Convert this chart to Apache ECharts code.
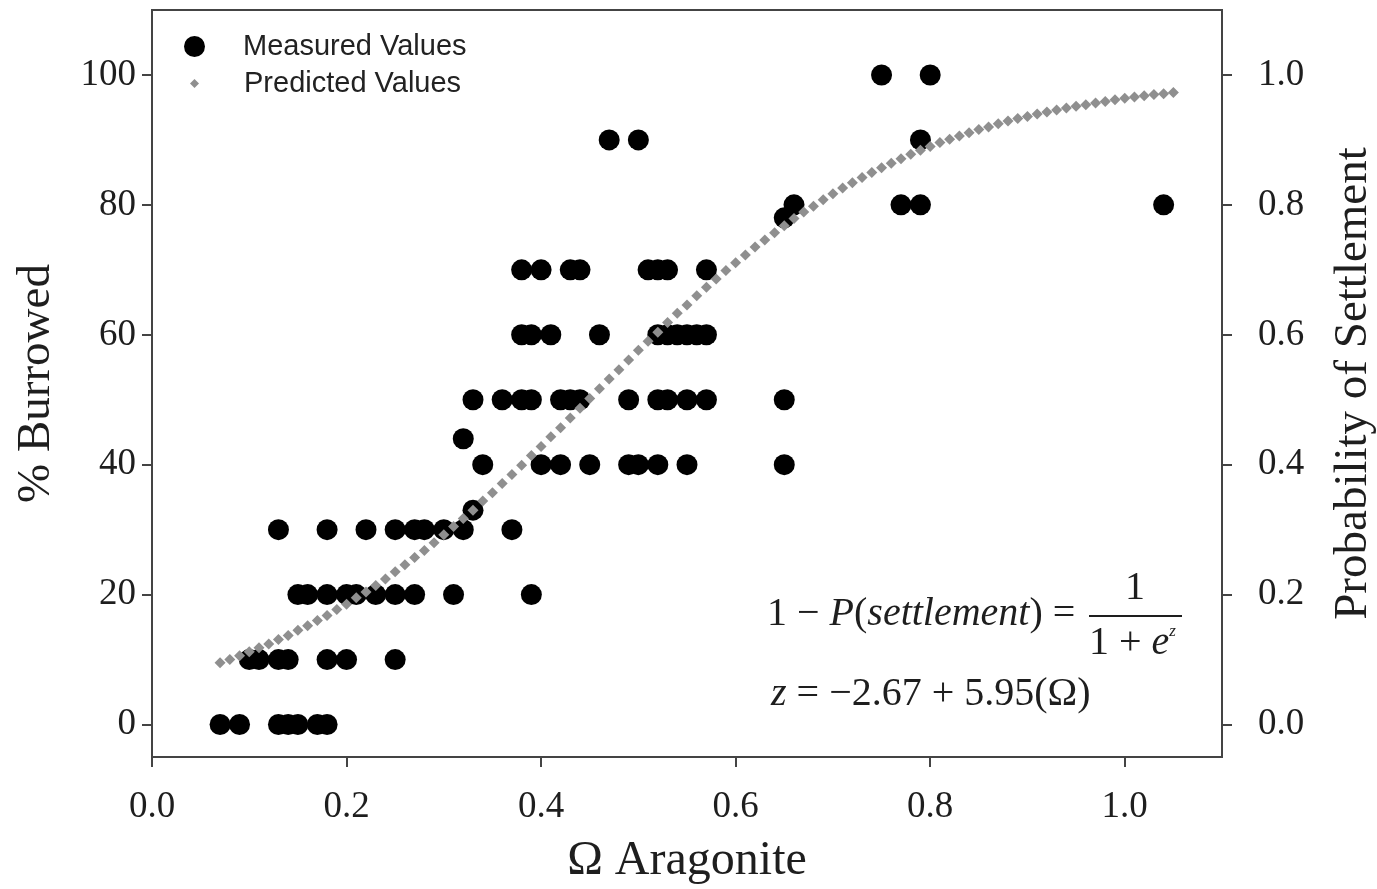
<!DOCTYPE html>
<html>
<head>
<meta charset="utf-8">
<title>Burrowing vs aragonite saturation</title>
<script src="https://cdn.jsdelivr.net/npm/echarts@6/dist/echarts.min.js"></script>
<style>
  html, body { margin: 0; padding: 0; background: #fff; }
  #chart { width: 1377px; height: 889px; }
</style>
</head>
<body>
<div id="chart"></div>
<script>
const measuredX = [
  0.07, 0.09, 0.13, 0.14, 0.15, 0.17, 0.18,
  0.10, 0.11, 0.13, 0.14, 0.18, 0.20, 0.25,
  0.15, 0.16, 0.18, 0.20, 0.21, 0.23, 0.25, 0.27, 0.31, 0.39,
  0.13, 0.18, 0.22, 0.25, 0.27, 0.28, 0.30, 0.32, 0.37,
  0.33,
  0.34, 0.40, 0.42, 0.45, 0.49, 0.50, 0.52, 0.55, 0.65,
  0.32,
  0.33, 0.36, 0.38, 0.39, 0.42, 0.43, 0.44, 0.49, 0.52, 0.53, 0.55, 0.57, 0.65,
  0.38, 0.39, 0.41, 0.46, 0.52, 0.53, 0.54, 0.55, 0.56, 0.57,
  0.38, 0.40, 0.43, 0.44, 0.51, 0.52, 0.53, 0.57,
  0.65,
  0.66, 0.77, 0.79, 1.04,
  0.47, 0.50, 0.79,
  0.75, 0.80
];
const measuredY = [
  0, 0, 0, 0, 0, 0, 0,
  10, 10, 10, 10, 10, 10, 10,
  20, 20, 20, 20, 20, 20, 20, 20, 20, 20,
  30, 30, 30, 30, 30, 30, 30, 30, 30,
  33,
  40, 40, 40, 40, 40, 40, 40, 40, 40,
  44,
  50, 50, 50, 50, 50, 50, 50, 50, 50, 50, 50, 50, 50,
  60, 60, 60, 60, 60, 60, 60, 60, 60, 60,
  70, 70, 70, 70, 70, 70, 70, 70,
  78,
  80, 80, 80, 80,
  90, 90, 90,
  100, 100
];

// predicted probability of settlement along the fitted curve
const predictedX = [
  0.07, 0.08, 0.09, 0.10, 0.11, 0.12, 0.13, 0.14, 0.15, 0.16,
  0.17, 0.18, 0.19, 0.20, 0.21, 0.22, 0.23, 0.24, 0.25, 0.26,
  0.27, 0.28, 0.29, 0.30, 0.31, 0.32, 0.33, 0.34, 0.35, 0.36,
  0.37, 0.38, 0.39, 0.40, 0.41, 0.42, 0.43, 0.44, 0.45, 0.46,
  0.47, 0.48, 0.49, 0.50, 0.51, 0.52, 0.53, 0.54, 0.55, 0.56,
  0.57, 0.58, 0.59, 0.60, 0.61, 0.62, 0.63, 0.64, 0.65, 0.66,
  0.67, 0.68, 0.69, 0.70, 0.71, 0.72, 0.73, 0.74, 0.75, 0.76,
  0.77, 0.78, 0.79, 0.80, 0.81, 0.82, 0.83, 0.84, 0.85, 0.86,
  0.87, 0.88, 0.89, 0.90, 0.91, 0.92, 0.93, 0.94, 0.95, 0.96,
  0.97, 0.98, 0.99, 1.00, 1.01, 1.02, 1.03, 1.04, 1.05
];
const predictedP = [
  0.095, 0.100, 0.106, 0.112, 0.118, 0.124, 0.131, 0.137, 0.145, 0.152,
  0.160, 0.168, 0.177, 0.185, 0.195, 0.204, 0.214, 0.224, 0.235, 0.246,
  0.257, 0.268, 0.280, 0.292, 0.305, 0.317, 0.330, 0.344, 0.357, 0.371,
  0.385, 0.399, 0.414, 0.428, 0.443, 0.457, 0.472, 0.487, 0.502, 0.517,
  0.532, 0.546, 0.561, 0.576, 0.590, 0.604, 0.619, 0.633, 0.646, 0.660,
  0.673, 0.686, 0.699, 0.711, 0.723, 0.735, 0.746, 0.757, 0.768, 0.779,
  0.789, 0.798, 0.808, 0.817, 0.826, 0.834, 0.842, 0.850, 0.857, 0.864,
  0.871, 0.878, 0.884, 0.890, 0.896, 0.901, 0.906, 0.911, 0.916, 0.920,
  0.925, 0.929, 0.933, 0.936, 0.940, 0.943, 0.946, 0.949, 0.952, 0.954,
  0.957, 0.959, 0.962, 0.964, 0.966, 0.968, 0.970, 0.971, 0.973
];

const xTicks = [0, 0.2, 0.4, 0.6, 0.8, 1.0];
const yTicks = [0, 20, 40, 60, 80, 100];
const pTicks = [0, 0.2, 0.4, 0.6, 0.8, 1.0];

const serif = "'Liberation Serif', 'DejaVu Serif', serif";
const sans = "'Liberation Sans', Arial, sans-serif";
const frame = '#444';
const ink = '#1e1e1e';

const chart = echarts.init(document.getElementById('chart'), null, { renderer: 'canvas' });

const tickLine = { show: true, inside: false, length: 10, lineStyle: { color: frame, width: 2 } };

const option = {
  backgroundColor: '#fff',
  animation: false,
  grid: {
    left: 152, right: 155, top: 10, bottom: 132,
    outerBoundsMode: 'none',
    show: true, borderColor: frame, borderWidth: 2, backgroundColor: 'transparent'
  },
  legend: [
    {
      data: ['Measured Values'],
      left: 179, top: 27,
      itemWidth: 21, itemHeight: 21,
      textStyle: { fontFamily: sans, fontSize: 29, color: '#222', padding: [0, 0, 0, 33] }
    },
    {
      data: ['Predicted Values'],
      left: 185, top: 64,
      itemWidth: 9, itemHeight: 9,
      textStyle: { fontFamily: sans, fontSize: 29, color: '#222', padding: [0, 0, 0, 40] }
    }
  ],
  xAxis: {
    type: 'value', min: 0, max: 1.1,
    name: 'Ω Aragonite', nameLocation: 'middle', nameGap: 80,
    nameTextStyle: { fontFamily: serif, fontSize: 48, color: ink },
    axisLine: { show: false, onZero: false },
    axisTick: Object.assign({ customValues: xTicks }, tickLine),
    splitLine: { show: false },
    axisLabel: {
      customValues: xTicks, margin: 32,
      fontFamily: serif, fontSize: 37, color: ink,
      formatter: v => v.toFixed(1)
    }
  },
  yAxis: [
    {
      type: 'value', min: -5, max: 110, position: 'left',
      name: '% Burrowed', nameLocation: 'middle', nameGap: 92, nameRotate: 90,
      nameTextStyle: { fontFamily: serif, fontSize: 47, color: ink },
      axisLine: { show: false, onZero: false },
      axisTick: Object.assign({ customValues: yTicks }, tickLine),
      splitLine: { show: false },
      axisLabel: {
        customValues: yTicks, margin: 16,
        fontFamily: serif, fontSize: 37, color: ink
      }
    },
    {
      type: 'value', min: -0.05, max: 1.1, position: 'right',
      name: 'Probability of Settlement', nameLocation: 'middle', nameGap: 108, nameRotate: 90,
      nameTextStyle: { fontFamily: serif, fontSize: 47, color: ink },
      axisLine: { show: false, onZero: false },
      axisTick: Object.assign({ customValues: pTicks }, tickLine),
      splitLine: { show: false },
      axisLabel: {
        customValues: pTicks, margin: 36,
        fontFamily: serif, fontSize: 37, color: ink,
        formatter: v => v.toFixed(1)
      }
    }
  ],
  series: [
    {
      name: 'Measured Values',
      type: 'scatter',
      yAxisIndex: 0,
      symbol: 'circle',
      symbolSize: 21,
      itemStyle: { color: '#000', opacity: 1 },
      data: measuredX.map((x, i) => [x, measuredY[i]])
    },
    {
      name: 'Predicted Values',
      type: 'scatter',
      yAxisIndex: 1,
      symbol: 'diamond',
      symbolSize: 11,
      itemStyle: { color: '#8f8f8f', opacity: 1 },
      data: predictedX.map((x, i) => [x, predictedP[i]])
    }
  ],
  graphic: [
    {
      type: 'text', left: 767, top: 594,
      style: {
        text: '1 − {i|P}({i|settlement}) =',
        font: '40px ' + serif, fill: ink,
        rich: { i: { fontFamily: serif, fontSize: 40, fontStyle: 'italic', fill: ink } }
      }
    },
    {
      type: 'text', left: 1125, top: 568,
      style: { text: '1', font: '40px ' + serif, fill: ink }
    },
    {
      type: 'line',
      shape: { x1: 1089, y1: 616, x2: 1182, y2: 616 },
      style: { stroke: ink, lineWidth: 2 }
    },
    {
      type: 'text', left: 1089, top: 623,
      style: {
        text: '1 + {i|e}{s|z}',
        font: '40px ' + serif, fill: ink,
        rich: {
          i: { fontFamily: serif, fontSize: 40, fontStyle: 'italic', fill: ink },
          s: { fontFamily: serif, fontSize: 17, fontStyle: 'italic', fill: ink, verticalAlign: 'top', padding: [0, 0, 24, 0] }
        }
      }
    },
    {
      type: 'text', left: 771, top: 674,
      style: {
        text: '{i|z} = −2.67 + 5.95(Ω)',
        font: '40px ' + serif, fill: ink,
        rich: { i: { fontFamily: serif, fontSize: 40, fontStyle: 'italic', fill: ink } }
      }
    }
  ]
};

chart.setOption(option);
</script>
</body>
</html>
